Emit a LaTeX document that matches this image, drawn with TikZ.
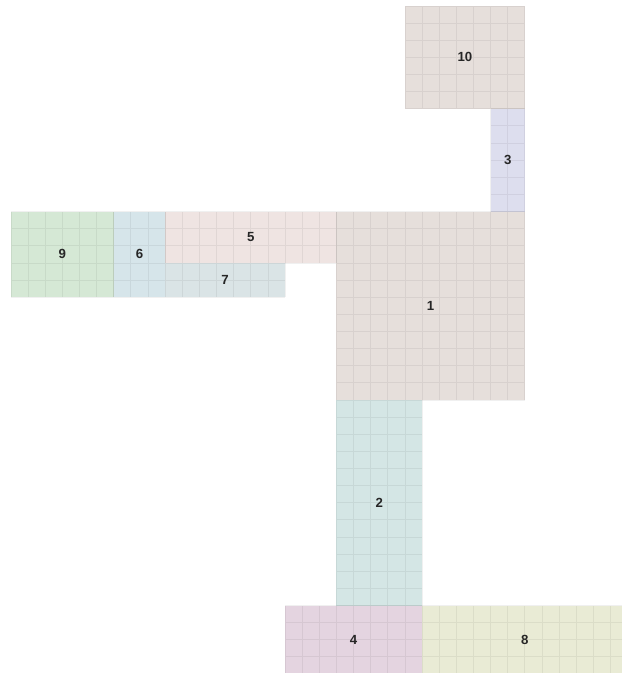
\documentclass[tikz,border=0pt]{standalone}
\usepackage{fontspec}
\setmainfont{Liberation Sans}
\definecolor{cTen}{HTML}{E6DFDB}
\definecolor{cOne}{HTML}{E6DFDB}
\definecolor{cThree}{HTML}{DDDEEE}
\definecolor{cFive}{HTML}{EFE4E2}
\definecolor{cNine}{HTML}{D5E8D5}
\definecolor{cSix}{HTML}{D6E5EA}
\definecolor{cSeven}{HTML}{DAE4E6}
\definecolor{cTwo}{HTML}{D4E6E5}
\definecolor{cFour}{HTML}{E4D4E0}
\definecolor{cEight}{HTML}{E9EBD5}
\newcommand\myroom[6]{%
  \fill[#6] (#2,-#3) rectangle (#4,-#5);
  \draw[gridline] (#2,-#3) grid (#4,-#5);
  \node[lbl] (room#1) at ({(#2+#4)/2},{-(#3+#5)/2}) {#1};}
\begin{document}
\begin{tikzpicture}[scale=0.5,
  gridline/.style={black, opacity=0.06, line width=0.7pt},
  lbl/.style={font=\fontsize{11}{13}\selectfont\bfseries, text=black!85}]
\useasboundingbox (-0.642,0.35) rectangle (35.67,-38.94);
\clip (-0.642,0.35) rectangle (35.67,-38.94);
\myroom{10}{23}{0}{30}{6}{cTen}
\myroom{3}{28}{6}{30}{12}{cThree}
\myroom{1}{19}{12}{30}{23}{cOne}
\myroom{5}{9}{12}{19}{15}{cFive}
\myroom{9}{0}{12}{6}{17}{cNine}
\myroom{6}{6}{12}{9}{17}{cSix}
\myroom{7}{9}{15}{16}{17}{cSeven}
\myroom{2}{19}{23}{24}{35}{cTwo}
\myroom{4}{16}{35}{24}{39}{cFour}
\myroom{8}{24}{35}{36}{39}{cEight}
\end{tikzpicture}
\end{document}
